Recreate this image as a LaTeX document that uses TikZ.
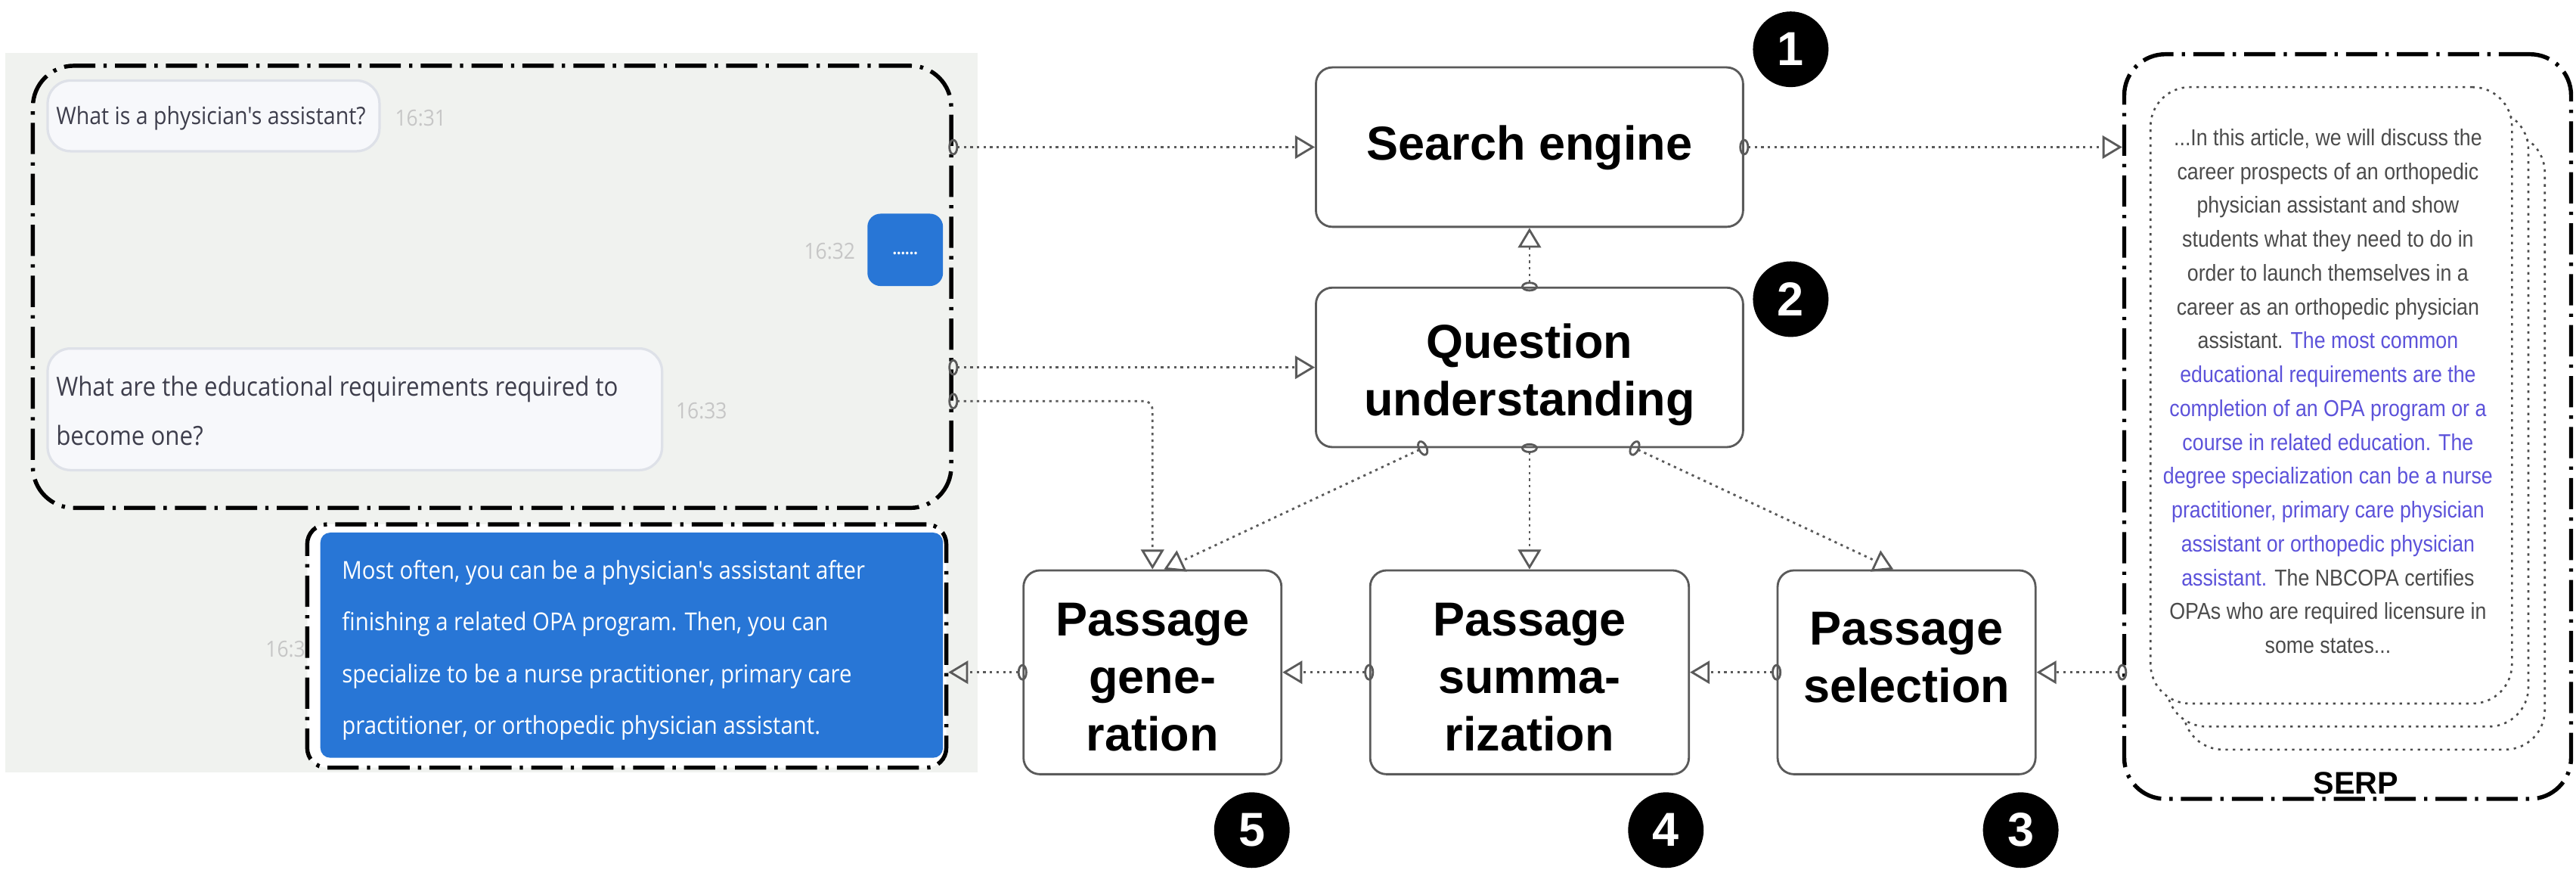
\documentclass[tikz,border=0pt]{standalone}
\usepackage{fontspec}
\setmainfont{Liberation Sans}
\newfontfamily\chatfont[FakeStretch=0.9]{Open Sans}
\newfontfamily\serpfont[FakeStretch=0.88]{Liberation Sans}
\usetikzlibrary{arrows.meta}

\definecolor{panelgray}{RGB}{240,242,239}
\definecolor{bubblefill}{RGB}{247,248,251}
\definecolor{bubbleline}{RGB}{222,225,232}
\definecolor{chatblue}{RGB}{40,118,214}
\definecolor{chattext}{RGB}{62,62,76}
\definecolor{stamp}{RGB}{198,198,198}
\definecolor{serpgray}{RGB}{75,75,75}
\definecolor{serpblue}{RGB}{92,82,218}
\definecolor{boxline}{RGB}{90,90,90}
\definecolor{connline}{RGB}{90,90,90}

\tikzset{
  dashdot frame/.style={draw=black, line width=2.5pt,
    dash pattern=on 19pt off 5pt on 2pt off 5pt, rounded corners=25pt, inner sep=0pt},
  stage/.style={draw=boxline, line width=1.3pt, rounded corners=10pt, fill=white, inner sep=0pt},
  stagetext/.style={align=center, inner sep=0pt, font=\bfseries\fontsize{29}{35}\selectfont},
  badge/.style={circle, fill=black, text=white, minimum size=46pt, inner sep=0pt,
    font=\bfseries\fontsize{29}{29}\selectfont},
  bubble/.style={draw=bubbleline, fill=bubblefill, line width=1.5pt,
    rounded corners=14pt, inner sep=0pt},
  chatq/.style={text=chattext, inner sep=0pt, align=left},
  stamptext/.style={text=stamp, font=\chatfont\fontsize{13.5}{15}\selectfont, inner sep=0pt},
  conn/.style={draw=connline, line width=1.3pt, dash pattern=on 1.5pt off 2.5pt,
    {Ellipse[open,length=6pt,width=10pt]}-{Triangle[open,length=12pt,width=14pt]},
    shorten <=-3pt},
  page/.style={draw=serpgray, fill=white, line width=1.2pt,
    dash pattern=on 1.5pt off 3pt, rounded corners=24pt, inner sep=0pt},
}

\begin{document}
\begin{tikzpicture}[x=1pt, y=-1pt]
\useasboundingbox (0,0) rectangle (1568,529);

% chat window background
\fill[panelgray] (3,32) rectangle (595,470);

% conversation frame and messages
\node[dashdot frame, minimum width=559pt, minimum height=269pt] (chat) at (299.5,174.5) {};
\node[bubble, minimum width=202pt, minimum height=43pt] (q1) at (130,70.5) {};
\node[chatq, anchor=west, font=\chatfont\fontsize{14.6}{30}\selectfont] (q1t) at (34,72) {What is a physician's assistant?};
\node[stamptext] (t1) at (256,72) {16:31};

\node[fill=chatblue, rounded corners=8pt, minimum width=46pt, minimum height=44pt, inner sep=0pt] (dots) at (551,152) {};
\node[text=white, inner sep=0pt, font=\chatfont\bfseries\fontsize{10}{10}\selectfont] (dotst) at (551,154) {......};
\node[stamptext] (t2) at (505,153) {16:32};

\node[bubble, minimum width=374pt, minimum height=74pt] (q2) at (216,249) {};
\node[chatq, anchor=west, font=\chatfont\fontsize{16}{30}\selectfont] (q2t) at (34,250) {What are the educational requirements required to\\become one?};
\node[stamptext] (t3) at (427,250) {16:33};

% generated answer
\node[stamptext, anchor=east] (t4) at (186,395) {16:3};
\node[dashdot frame, rounded corners=12pt, fill=white, minimum width=389pt, minimum height=148pt] (ans) at (381.5,393) {};
\node[fill=chatblue, rounded corners=6pt, minimum width=379pt, minimum height=137pt, inner sep=0pt] (ansbg) at (384.5,392.5) {};
\node[anchor=west, align=left, text=white, inner sep=0pt,
      font=\chatfont\fontsize{15}{31.5}\selectfont] (anst) at (208,395.5)
  {Most often, you can be a physician's assistant after\\
   finishing a related OPA program. Then, you can\\
   specialize to be a nurse practitioner, primary care\\
   practitioner, or orthopedic physician assistant.};

% pipeline stages
\node[stage, minimum width=260pt, minimum height=97pt] (se) at (931,89.5) {};
\node[stagetext] (set) at (931,90) {Search engine};
\node[stage, minimum width=260pt, minimum height=97pt] (qu) at (931,223.5) {};
\node[stagetext] (qut) at (931,228) {Question\\understanding};
\node[stage, minimum width=157pt, minimum height=124pt] (gen) at (701.5,409) {};
\node[stagetext] (gent) at (701.5,412) {Passage\\gene-\\ration};
\node[stage, minimum width=194pt, minimum height=124pt] (summ) at (931,409) {};
\node[stagetext] (summt) at (931,412) {Passage\\summa-\\rization};
\node[stage, minimum width=157pt, minimum height=124pt] (sel) at (1160.5,409) {};
\node[stagetext] (selt) at (1160.5,400) {Passage\\selection};

% step numbers
\node[badge] (n1) at (1090,30) {1};
\node[badge] (n2) at (1090,182) {2};
\node[badge] (n3) at (1230,505) {3};
\node[badge] (n4) at (1014,505) {4};
\node[badge] (n5) at (762,505) {5};

% result page
\node[dashdot frame, minimum width=272pt, minimum height=453pt] (serp) at (1429,259.5) {};
\node[page, minimum width=220pt, minimum height=375pt] (pg3) at (1439,268.5) {};
\node[page, minimum width=220pt, minimum height=375pt] (pg2) at (1429,254.5) {};
\node[page, minimum width=220pt, minimum height=375pt] (pg1) at (1419,240.5) {};
\node[align=center, inner sep=0pt, text=serpgray,
      font=\serpfont\fontsize{14}{20.6}\selectfont] (serptext) at (1417,238)
  {...In this article, we will discuss the\\
   career prospects of an orthopedic\\
   physician assistant and show\\
   students what they need to do in\\
   order to launch themselves in a\\
   career as an orthopedic physician\\
   assistant. \textcolor{serpblue}{The most common}\\
   \textcolor{serpblue}{educational requirements are the}\\
   \textcolor{serpblue}{completion of an OPA program or a}\\
   \textcolor{serpblue}{course in related education. The}\\
   \textcolor{serpblue}{degree specialization can be a nurse}\\
   \textcolor{serpblue}{practitioner, primary care physician}\\
   \textcolor{serpblue}{assistant or orthopedic physician}\\
   \textcolor{serpblue}{assistant.} The NBCOPA certifies\\
   OPAs who are required licensure in\\
   some states...};
\node[anchor=base, inner sep=0pt, font=\bfseries\fontsize{19}{19}\selectfont] (serplabel) at (1434,483) {SERP};

% connectors
\coordinate (chatout) at (chat.east |- 0,244);
\draw[conn] (se.west -| chat.east) -- (se.west);
\draw[conn] (qu.west -| chat.east) -- (qu.west);
\draw[conn, rounded corners=5pt] (chatout) -| (gen.north);
\draw[conn] (qu.north) -- (se.south);
\draw[conn] ([xshift=-65pt]qu.south) -- ([xshift=7pt]gen.north);
\draw[conn] (qu.south) -- (summ.north);
\draw[conn] ([xshift=64pt]qu.south) -- ([xshift=-8pt]sel.north);
\draw[conn] (se.east) -- (se.east -| serp.west);
\draw[conn] (sel.east -| serp.west) -- (sel.east);
\draw[conn] (sel.west) -- (summ.east);
\draw[conn] (summ.west) -- (gen.east);
\draw[conn] (gen.west) -- (gen.west -| ans.east);
\end{tikzpicture}
\end{document}
